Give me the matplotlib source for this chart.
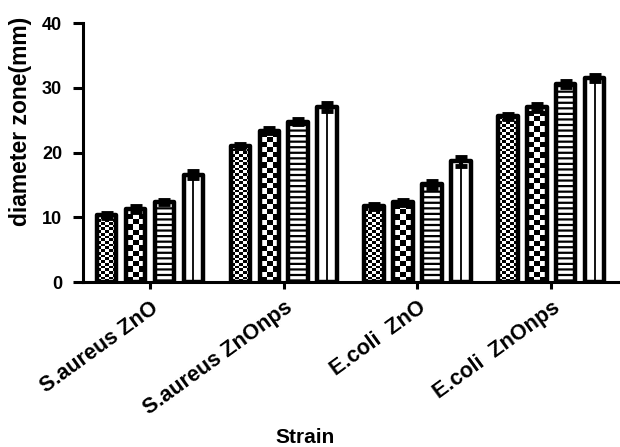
import numpy as np
import matplotlib.pyplot as plt

plt.rcParams['font.family'] = ['Liberation Sans', 'DejaVu Sans']
plt.rcParams['font.weight'] = 'bold'
plt.rcParams['hatch.linewidth'] = 1.6

# data
strains = ['S.aureus ZnO', 'S.aureus ZnOnps', 'E.coli  ZnO', 'E.coli  ZnOnps']
conc1 = [10.3, 21.0, 11.7, 25.6]
conc2 = [11.3, 23.4, 12.3, 27.0]
conc3 = [12.4, 24.8, 15.1, 30.6]
conc4 = [16.6, 27.0, 18.7, 31.5]
err1 = [0.4, 0.3, 0.4, 0.4]
err2 = [0.4, 0.4, 0.4, 0.5]
err3 = [0.3, 0.4, 0.5, 0.4]
err4 = [0.5, 0.6, 0.7, 0.5]

series = [conc1, conc2, conc3, conc4]
errors = [err1, err2, err3, err4]

fig = plt.figure(figsize=(6.2, 4.47), dpi=100)
ax = fig.add_axes([0.134, 0.369, 0.863, 0.579])

x = np.arange(len(strains))
step = 0.216
width = 0.145

def checker(ax, bar, ncols, cell_y):
    x0, w, h = bar.get_x(), bar.get_width(), bar.get_height()
    nrows = int(np.ceil(h / cell_y))
    img = np.indices((nrows, ncols)).sum(axis=0) % 2
    top = nrows * cell_y
    im = ax.imshow(img, cmap='gray', extent=(x0, x0 + w, 0, top),
                   origin='lower', interpolation='nearest', aspect='auto', zorder=1.5)
    im.set_clip_path(bar)

for i, (vals, errs) in enumerate(zip(series, errors)):
    pos = x + (i - 1.5) * step
    hatch = '---' if i == 2 else None
    bars = ax.bar(pos, vals, width, color='white', edgecolor='black',
                  linewidth=3.2, hatch=hatch, zorder=2, joinstyle='round')
    ax.errorbar(pos, vals, yerr=errs, fmt='none', ecolor='black',
                elinewidth=3, capsize=4.5, capthick=3.5, zorder=3)
    for b in bars:
        if i == 0:
            b.set_facecolor('none')
            checker(ax, b, 5, 0.42)
        elif i == 1:
            b.set_facecolor('none')
            checker(ax, b, 3, 0.8)
        elif i == 3:
            cx = b.get_x() + b.get_width() / 2
            ax.vlines(cx, 0, b.get_height(), color='black', lw=1.3, zorder=2.5)

ax.set_xlim(-0.5, 3.5)
ax.set_ylim(0, 40)
ax.set_yticks([0, 10, 20, 30, 40])
ax.set_xticks(x)
ax.set_xticklabels(strains, rotation=36, ha='right', rotation_mode='anchor',
                   fontsize=15.5, fontweight='bold')
for lab in ax.get_yticklabels():
    lab.set_fontsize(13)
    lab.set_fontweight('bold')

ax.spines['top'].set_visible(False)
ax.spines['right'].set_visible(False)
ax.spines['left'].set_linewidth(2.2)
ax.spines['bottom'].set_linewidth(2.2)
ax.tick_params(axis='y', width=2.2, length=7, pad=8)
ax.tick_params(axis='x', width=2.2, length=5, pad=6)

ax.set_ylabel('diameter zone(mm)', fontsize=16.5, fontweight='bold')
ax.yaxis.set_label_coords(-0.095, 0.62)
ax.set_xlabel('Strain', fontsize=15, fontweight='bold')
ax.xaxis.set_label_coords(0.415, -0.565)

fig.savefig('out.png', dpi=100)
